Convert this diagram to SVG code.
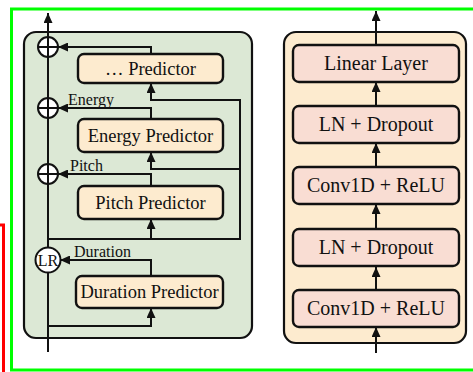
<svg xmlns="http://www.w3.org/2000/svg" width="473" height="372" viewBox="0 0 473 372">
<style>
.panelL{fill:#dce8d5;stroke:#111;stroke-width:2.2}
.panelR{fill:#fdebcf;stroke:#111;stroke-width:2.2}
.boxL{fill:#fdebcf;stroke:#111;stroke-width:2.4}
.boxR{fill:#f9ddd3;stroke:#111;stroke-width:2.4}
.ln{fill:none;stroke:#111;stroke-width:2}
.arr{marker-end:url(#ah)}
.t{font-family:"Liberation Serif","Times New Roman",serif;fill:#111;text-anchor:middle}
.tl{font-size:18.5px}
.tr{font-size:20px}
.lab{font-family:"Liberation Serif","Times New Roman",serif;fill:#111;font-size:16px}
.circ{fill:#fff;stroke:#111;stroke-width:2}
</style>
<defs>
<marker id="ah" markerUnits="userSpaceOnUse" markerWidth="11" markerHeight="9" refX="10" refY="4.5" orient="auto">
<path d="M0,0 L10,4.5 L0,9 z" fill="#111"/>
</marker>
</defs>
<rect x="11.5" y="9" width="470" height="361" fill="none" stroke="#00ff00" stroke-width="3"/>
<path d="M0,225 H3.5 V372" fill="none" stroke="#ff0000" stroke-width="3"/>
<g id="panel-left"><rect class="panelL" x="24" y="32" width="228" height="306" rx="12"/></g>
<g id="panel-right"><rect class="panelR" x="284" y="32" width="182" height="311" rx="12"/></g>
<g id="connectors">
<path class="ln arr" d="M48,352 V13"/>
<path class="ln arr" d="M48,326 H151 V308"/>
<path class="ln arr" d="M151,276 V260 H60"/>
<path class="ln arr" d="M48,239 H240 V100 H151 V83"/>
<path class="ln arr" d="M151,239 V219"/>
<path class="ln arr" d="M240,169 H151 V152"/>
<path class="ln arr" d="M151,186 V174 H58"/>
<path class="ln arr" d="M151,119 V108 H58"/>
<path class="ln arr" d="M151,54 V47 H58"/>
<path class="ln arr" d="M376,353 V327"/>
<path class="ln arr" d="M376,290 V267"/>
<path class="ln arr" d="M376,229 V204"/>
<path class="ln arr" d="M376,167 V143"/>
<path class="ln arr" d="M376,106 V82"/>
<path class="ln arr" d="M376,45 V11"/>
</g>
<g id="add1"><circle class="circ" cx="48" cy="47" r="10"/><path class="ln" d="M38,47 H58 M48,37 V57"/></g>
<g id="add2"><circle class="circ" cx="48" cy="108" r="10"/><path class="ln" d="M38,108 H58 M48,98 V118"/></g>
<g id="add3"><circle class="circ" cx="48" cy="174" r="10"/><path class="ln" d="M38,174 H58 M48,164 V184"/></g>
<g id="lr"><circle class="circ" cx="48" cy="260" r="12.5"/><text class="t" x="48" y="265.5" style="font-size:16px">LR</text></g>
<g id="label-energy"><text class="lab" x="68" y="104.5">Energy</text></g>
<g id="label-pitch"><text class="lab" x="70" y="171">Pitch</text></g>
<g id="label-duration"><text class="lab" x="74" y="257">Duration</text></g>
<g id="dots-predictor"><rect class="boxL" x="78" y="54" width="145" height="29" rx="6"/><text class="t tl" x="150.5" y="74.5">… Predictor</text></g>
<g id="energy-predictor"><rect class="boxL" x="78" y="119" width="145" height="33" rx="6"/><text class="t tl" x="150.5" y="141.5">Energy Predictor</text></g>
<g id="pitch-predictor"><rect class="boxL" x="78" y="186" width="145" height="33" rx="6"/><text class="t tl" x="150.5" y="208.5">Pitch Predictor</text></g>
<g id="duration-predictor"><rect class="boxL" x="76" y="276" width="147" height="32" rx="6"/><text class="t tl" x="149.5" y="298">Duration Predictor</text></g>
<g id="linear-layer"><rect class="boxR" x="293" y="45" width="166" height="37" rx="6"/><text class="t tr" x="376" y="70">Linear Layer</text></g>
<g id="ln-dropout-1"><rect class="boxR" x="293" y="106" width="166" height="37" rx="6"/><text class="t tr" x="376" y="131">LN + Dropout</text></g>
<g id="conv-relu-1"><rect class="boxR" x="293" y="167" width="166" height="37" rx="6"/><text class="t tr" x="376" y="192">Conv1D + ReLU</text></g>
<g id="ln-dropout-2"><rect class="boxR" x="293" y="229" width="166" height="37" rx="6"/><text class="t tr" x="376" y="254">LN + Dropout</text></g>
<g id="conv-relu-2"><rect class="boxR" x="293" y="290" width="166" height="37" rx="6"/><text class="t tr" x="376" y="315">Conv1D + ReLU</text></g>
</svg>
